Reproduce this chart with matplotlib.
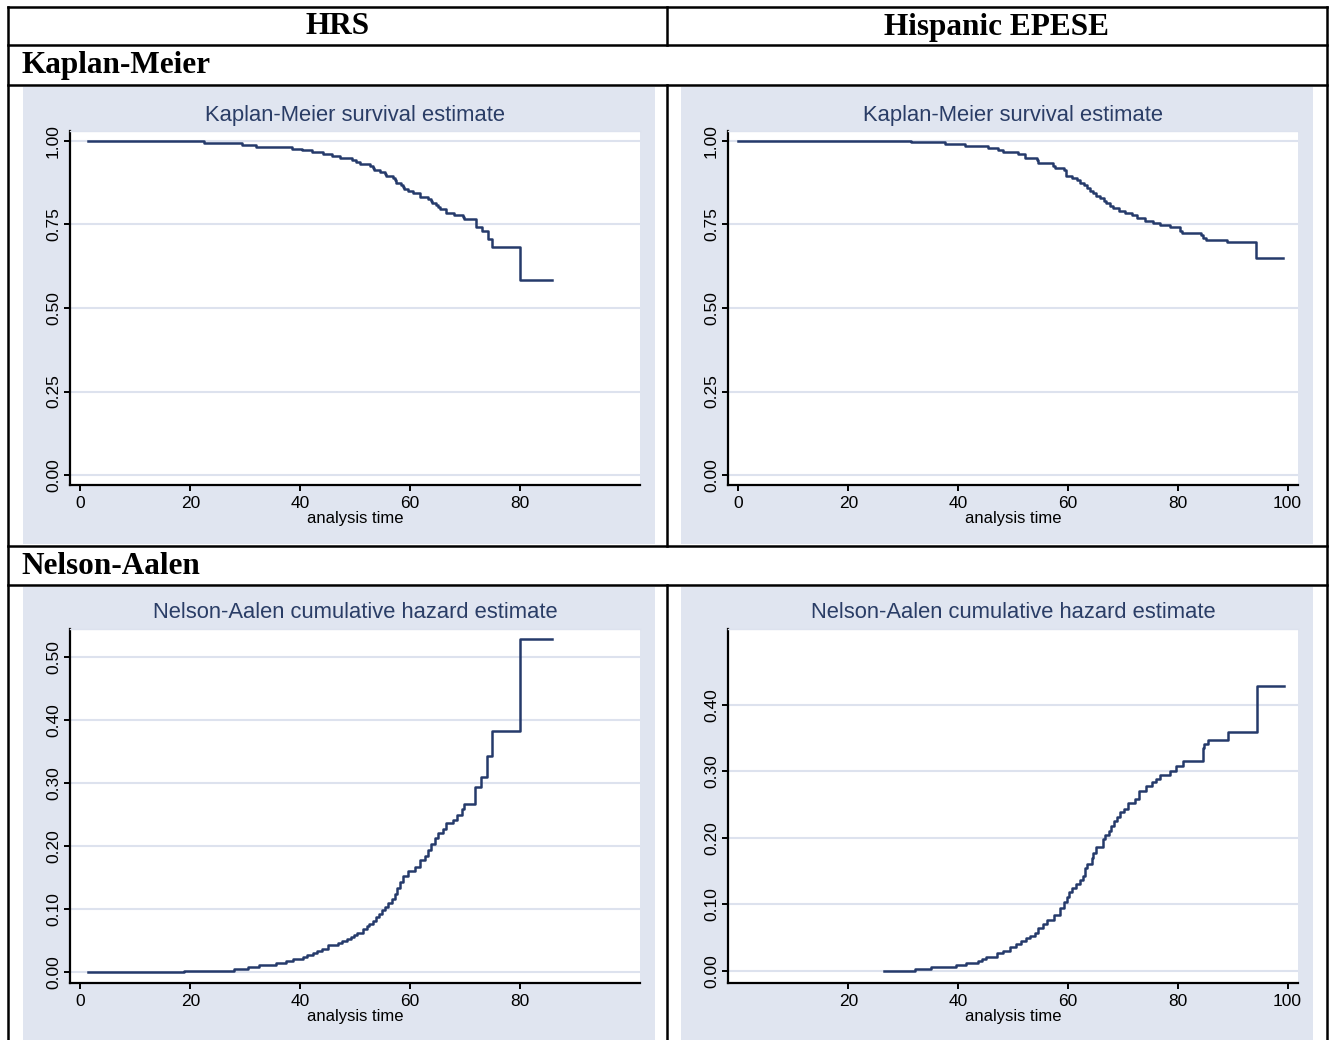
import matplotlib.pyplot as plt
from matplotlib.patches import Rectangle

# Kaplan-Meier survival, HRS (step times / survival after the step)
km_hrs_t = [1.3, 22.5, 29.4, 32.0, 38.6, 40.3, 42.1, 44.2, 45.8, 47.3, 49.4, 50.2, 50.9,
            52.7, 53.2, 53.5, 54.5, 55.5, 55.6, 56.9, 57.3, 57.5, 58.4, 58.7, 58.9, 59.6,
            60.6, 61.8, 63.3, 63.8, 64.1, 64.8, 65.2, 65.5, 66.5, 66.6, 68.0, 69.6, 69.8,
            72.0, 73.2, 74.2, 74.9, 80.0, 85.8]
km_hrs_s = [1.000, 0.994, 0.988, 0.982, 0.976, 0.971, 0.965, 0.959, 0.953, 0.947, 0.941, 0.935, 0.929,
            0.923, 0.917, 0.911, 0.905, 0.899, 0.893, 0.887, 0.881, 0.875, 0.869, 0.863, 0.857, 0.851,
            0.845, 0.833, 0.827, 0.821, 0.815, 0.809, 0.803, 0.797, 0.791, 0.785, 0.779, 0.773, 0.767,
            0.743, 0.731, 0.707, 0.683, 0.582, 0.582]

# Kaplan-Meier survival, Hispanic EPESE
km_epese_t = [0.0, 31.5, 34.0, 37.6, 41.3, 45.4, 47.3, 48.2, 51.0, 52.2, 54.3, 54.6, 57.3,
              57.6, 59.2, 59.6, 60.7, 61.6, 62.2, 62.9, 63.4, 64.0, 64.6, 65.2, 65.8, 66.5,
              67.0, 67.6, 68.2, 69.3, 70.4, 71.6, 72.5, 74.0, 75.5, 76.7, 78.5, 80.4, 80.7,
              84.3, 84.6, 85.2, 89.0, 94.2, 99.2]
km_epese_s = [1.000, 0.997, 0.995, 0.989, 0.983, 0.977, 0.971, 0.965, 0.959, 0.947, 0.941, 0.933, 0.923,
              0.917, 0.911, 0.893, 0.887, 0.881, 0.875, 0.867, 0.859, 0.851, 0.843, 0.835, 0.828, 0.821,
              0.813, 0.805, 0.799, 0.791, 0.783, 0.777, 0.769, 0.761, 0.755, 0.748, 0.742, 0.731, 0.725,
              0.719, 0.709, 0.702, 0.696, 0.649, 0.649]

# Nelson-Aalen cumulative hazard, HRS
na_hrs_t = [1.4, 18.9, 27.9, 30.6, 32.5, 35.6, 37.4, 38.8, 40.5, 41.3, 42.3, 43.0, 44.0,
            45.0, 46.9, 47.7, 48.6, 49.3, 49.9, 50.4, 51.4, 52.1, 52.5, 53.2, 53.8, 54.3,
            54.9, 55.5, 56.1, 56.7, 57.3, 57.7, 58.2, 58.8, 59.7, 60.9, 61.8, 62.7, 63.3,
            63.9, 64.5, 65.2, 66.1, 66.5, 67.9, 68.5, 69.4, 69.8, 71.9, 73.0, 74.1, 75.0,
            80.0, 85.8]
na_hrs_h = [0.000, 0.002, 0.005, 0.0085, 0.012, 0.015, 0.018, 0.021, 0.024, 0.0275, 0.031, 0.034, 0.037,
            0.043, 0.0465, 0.050, 0.053, 0.056, 0.059, 0.063, 0.069, 0.073, 0.077, 0.082, 0.087, 0.092,
            0.098, 0.103, 0.109, 0.116, 0.124, 0.133, 0.143, 0.152, 0.160, 0.167, 0.178, 0.184, 0.194,
            0.203, 0.212, 0.220, 0.227, 0.237, 0.241, 0.249, 0.258, 0.266, 0.294, 0.310, 0.342, 0.383,
            0.528, 0.528]

# Nelson-Aalen cumulative hazard, Hispanic EPESE
na_epese_t = [26.5, 32.1, 35.1, 39.6, 41.4, 43.6, 44.3, 45.0, 47.1, 48.2, 49.4, 50.5, 51.4,
              52.3, 53.1, 54.0, 54.6, 55.4, 56.2, 57.4, 58.5, 59.3, 59.8, 60.2, 60.7, 61.5,
              62.2, 62.7, 63.1, 63.5, 64.3, 64.6, 65.2, 66.4, 66.7, 67.4, 67.8, 68.4, 68.9,
              69.5, 70.2, 70.9, 72.2, 73.0, 74.3, 75.3, 76.0, 76.8, 78.5, 79.7, 80.9, 84.6,
              84.8, 85.6, 89.2, 94.4, 99.3]
na_epese_h = [0.000, 0.0025, 0.0055, 0.0086, 0.012, 0.015, 0.018, 0.021, 0.027, 0.030, 0.036, 0.040, 0.045,
              0.049, 0.052, 0.056, 0.064, 0.070, 0.076, 0.084, 0.094, 0.104, 0.111, 0.118, 0.124, 0.130,
              0.137, 0.143, 0.155, 0.160, 0.170, 0.177, 0.186, 0.198, 0.204, 0.210, 0.218, 0.225, 0.232,
              0.239, 0.244, 0.252, 0.258, 0.271, 0.278, 0.284, 0.289, 0.294, 0.301, 0.308, 0.316, 0.336,
              0.341, 0.348, 0.360, 0.429, 0.429]

col_labels = ['HRS', 'Hispanic EPESE']
row_labels = ['Kaplan-Meier', 'Nelson-Aalen']
km_title = 'Kaplan-Meier survival estimate'
na_title = 'Nelson-Aalen cumulative hazard estimate'
x_label = 'analysis time'

W, H = 1330, 1040
panel_bg = '#E0E5F0'
grid_col = '#DDE2EE'
line_col = '#253A6B'
title_col = '#2A3D66'

plt.rcParams['font.family'] = ['Liberation Sans', 'DejaVu Sans']

fig = plt.figure(figsize=(W / 100, H / 100), dpi=100)


def fig_box(x0, y0, x1, y1):
    # pixel box (top-left origin) -> figure fraction
    return [x0 / W, 1 - y1 / H, (x1 - x0) / W, (y1 - y0) / H]


# background layer: table grid + panel regions
bg = fig.add_axes([0, 0, 1, 1])
bg.set_xlim(0, W)
bg.set_ylim(H, 0)
bg.axis('off')

for x0 in (23, 681):
    bg.add_patch(Rectangle((x0, 87), 632, 457, color=panel_bg, lw=0))
    bg.add_patch(Rectangle((x0, 587), 632, 460, color=panel_bg, lw=0))

tlw = 1.8
for y in (7, 45, 85, 546, 585):
    bg.plot([8, 1327], [y, y], color='black', lw=tlw, solid_capstyle='projecting')
for x in (8, 1327):
    bg.plot([x, x], [7, H], color='black', lw=tlw)
for y0, y1 in ((7, 45), (85, 546), (585, H)):
    bg.plot([667, 667], [y0, y1], color='black', lw=tlw)

serif = dict(family='Liberation Serif', fontweight='bold', fontsize=22.5, color='black')
bg.text(337.5, 27, col_labels[0], ha='center', va='center', **serif)
bg.text(997, 27, col_labels[1], ha='center', va='center', **serif)
bg.text(21, 66, row_labels[0], ha='left', va='center', **serif)
bg.text(21, 566, row_labels[1], ha='left', va='center', **serif)


def draw_panel(box, t, v, ylim, yticks, xticks, title, title_y, xlab_y):
    ax = fig.add_axes(fig_box(*box))
    ax.step(t, v, where='post', color=line_col, lw=1.8, zorder=3)
    ax.set_xlim(-1.9, 101.9)
    ax.set_ylim(*ylim)
    ax.set_xticks(xticks)
    ax.set_xticklabels([str(x) for x in xticks])
    ax.set_yticks(yticks)
    ax.set_yticklabels([f'{y:.2f}' for y in yticks], rotation=90, va='center')
    ax.grid(axis='y', color=grid_col, lw=1.5)
    ax.set_axisbelow(True)
    ax.set_facecolor('white')
    for side in ('left', 'bottom'):
        ax.spines[side].set_linewidth(1.6)
    ax.spines['right'].set_visible(False)
    ax.spines['top'].set_color(grid_col)
    ax.spines['top'].set_linewidth(1.0)
    ax.tick_params(axis='both', direction='out', length=4.5, width=1.4, labelsize=12.5, colors='black')
    ax.tick_params(axis='x', pad=4)
    ax.tick_params(axis='y', pad=2)
    cx = (box[0] + box[2]) / 2
    bg.text(cx, title_y, title, ha='center', va='center', fontsize=15.8, color=title_col)
    bg.text(cx, xlab_y, x_label, ha='center', va='center', fontsize=12, color='black')
    return ax


km_yt = [0, 0.25, 0.5, 0.75, 1.0]
draw_panel((70, 131, 640, 484.5), km_hrs_t, km_hrs_s, (-0.028, 1.029), km_yt,
           [0, 20, 40, 60, 80], km_title, 115, 519)
draw_panel((728, 131, 1298, 484.5), km_epese_t, km_epese_s, (-0.028, 1.029), km_yt,
           [0, 20, 40, 60, 80, 100], km_title, 115, 519)
draw_panel((70, 628.5, 640, 982.5), na_hrs_t, na_hrs_h, (-0.0162, 0.5447),
           [0, 0.1, 0.2, 0.3, 0.4, 0.5], [0, 20, 40, 60, 80], na_title, 612, 1016)
draw_panel((728, 629, 1298, 982.5), na_epese_t, na_epese_h, (-0.0178, 0.5146),
           [0, 0.1, 0.2, 0.3, 0.4], [20, 40, 60, 80, 100], na_title, 612, 1016)

fig.savefig('out.png', dpi=100)
